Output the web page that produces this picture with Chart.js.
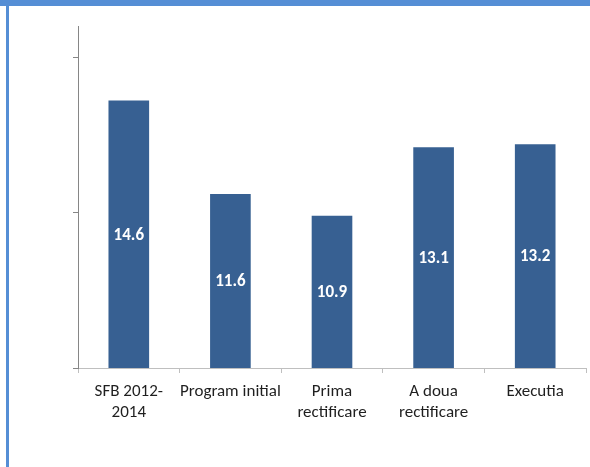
<!DOCTYPE html>
<html>
<head>
<meta charset="utf-8">
<script src="https://cdn.jsdelivr.net/npm/chart.js@4/dist/chart.umd.min.js"></script>
<style>
  html, body { margin: 0; padding: 0; background: #ffffff; }
  #wrap { position: relative; width: 590px; height: 467px; overflow: hidden; background: #ffffff; }
  #wrap canvas { position: absolute; left: 0; top: 0; }
  #band { position: absolute; left: 0; top: 0; width: 590px; height: 6px; background: #558ed5; }
  #edge { position: absolute; left: 6px; top: 0; width: 3px; height: 467px; background: #558ed5; }
</style>
</head>
<body>
<div id="wrap">
  <canvas id="chart" width="590" height="467"></canvas>
  <div id="band"></div>
  <div id="edge"></div>
</div>
<script>
// Budget stages and their values
const categories = [
  ['SFB 2012-', '2014'],
  'Program initial',
  ['Prima', 'rectificare'],
  ['A doua', 'rectificare'],
  'Executia'
];
const values = [14.6, 11.6, 10.9, 13.1, 13.2];
const yTicks = [6, 11, 16];
const yMin = 6;
const yMax = 17;

const FONT = "Carlito, Lato, 'Open Sans', sans-serif";

// White value labels centred on the visible part of each bar
const barValueLabels = {
  id: 'barValueLabels',
  afterDatasetsDraw(chart) {
    const ctx = chart.ctx;
    const meta = chart.getDatasetMeta(0);
    const bottom = chart.chartArea.bottom;
    ctx.save();
    ctx.fillStyle = '#ffffff';
    ctx.font = 'bold 17px ' + FONT;
    ctx.textAlign = 'center';
    ctx.textBaseline = 'middle';
    meta.data.forEach((bar, i) => {
      const p = bar.getProps(['x', 'y', 'base'], true);
      const base = Math.min(p.base, bottom);
      ctx.fillText(values[i].toFixed(1), p.x, (p.y + base) / 2 + 1);
    });
    ctx.restore();
  }
};

new Chart(document.getElementById('chart'), {
  type: 'bar',
  data: {
    labels: categories,
    datasets: [{
      data: values,
      backgroundColor: '#376092',
      borderWidth: 0,
      categoryPercentage: 1.0,
      barPercentage: 0.4
    }]
  },
  options: {
    responsive: false,
    animation: false,
    devicePixelRatio: 1,
    layout: { padding: { left: 0, right: 4, top: 26, bottom: 0 } },
    plugins: {
      legend: { display: false },
      tooltip: { enabled: false }
    },
    scales: {
      x: {
        grid: {
          offset: true,
          drawOnChartArea: false,
          drawTicks: true,
          tickLength: 5,
          color: '#bfbfbf'
        },
        border: { color: '#bfbfbf', width: 1 },
        ticks: {
          color: '#1f1f1f',
          font: { family: FONT, size: 17, lineHeight: 1.25 },
          padding: 8,
          maxRotation: 0,
          autoSkip: false
        },
        afterFit(scale) { scale.height = 99; }
      },
      y: {
        min: yMin,
        max: yMax,
        afterBuildTicks(scale) { scale.ticks = yTicks.map(v => ({ value: v })); },
        grid: {
          drawOnChartArea: false,
          drawTicks: true,
          tickLength: 5,
          color: '#868686'
        },
        border: { color: '#868686', width: 1 },
        ticks: { display: false },
        afterFit(scale) { scale.width = 78; }
      }
    }
  },
  plugins: [barValueLabels]
});
</script>
</body>
</html>
